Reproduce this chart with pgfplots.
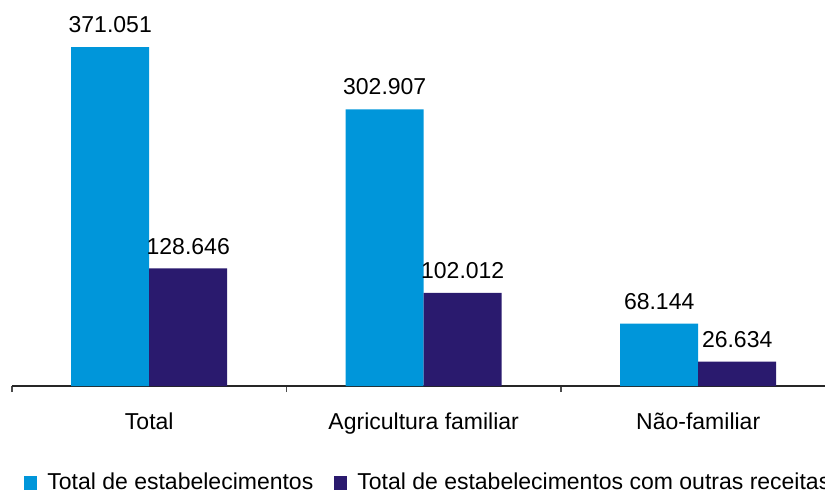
\documentclass[border=0pt]{standalone}
\usepackage{fontspec}
\setmainfont{Liberation Sans}
\usepackage{pgfplots}
\pgfplotsset{compat=1.18}
\definecolor{azul}{RGB}{0,150,218}
\definecolor{roxo}{RGB}{42,26,110}
\newcommand{\lblfont}{\fontsize{11.5}{13}\selectfont}
\begin{document}
\begin{tikzpicture}
\begin{axis}[
  at={(0pt,0pt)}, anchor=south west,
  scale only axis,
  width=406.5pt, height=193pt,
  xmin=-0.5, xmax=2.462, ymin=0, ymax=422.5,
  axis x line*=bottom, axis y line=none,
  x axis line style={-, black!85, line width=0.6pt},
  ybar=0pt, bar width=39pt,
  xtick={0,1,2},
  xticklabels={Total, Agricultura familiar, Não-familiar},
  major tick length=0pt,
  minor xtick={-0.5,0.5,1.5,2.5},
  minor tick length=3pt, tick align=outside,
  minor tick style={black!70, line width=0.6pt},
  xticklabel style={font=\lblfont, yshift=-10pt},
  nodes near coords,
  point meta=explicit symbolic,
  nodes near coords style={font=\lblfont, black, yshift=3.5pt},
  clip=false,
  legend columns=2,
  legend style={at={(0,0)}, anchor=west, xshift=6pt, yshift=-48.5pt,
    draw=none, fill=none, inner sep=0pt, font=\lblfont,
    nodes={inner xsep=0pt},
    /tikz/every odd column/.append style={column sep=5pt},
    /tikz/every even column/.append style={column sep=10.5pt}},
  legend image code/.code={\fill[#1] (0pt,-3.5pt) rectangle (6.5pt,3.5pt);},
]
\addplot[fill=azul, draw=none] coordinates {
  (0,371.051) [371.051]
  (1,302.907) [302.907]
  (2,68.144) [68.144]
};
\addplot[fill=roxo, draw=none] coordinates {
  (0,128.646) [128.646]
  (1,102.012) [102.012]
  (2,26.634) [26.634]
};
\legend{Total de estabelecimentos, Total de estabelecimentos com outras receitas}
\end{axis}
\pgfresetboundingbox
\path (-6pt,-53.5pt) rectangle (406.5pt,193pt);
\end{tikzpicture}
\end{document}
